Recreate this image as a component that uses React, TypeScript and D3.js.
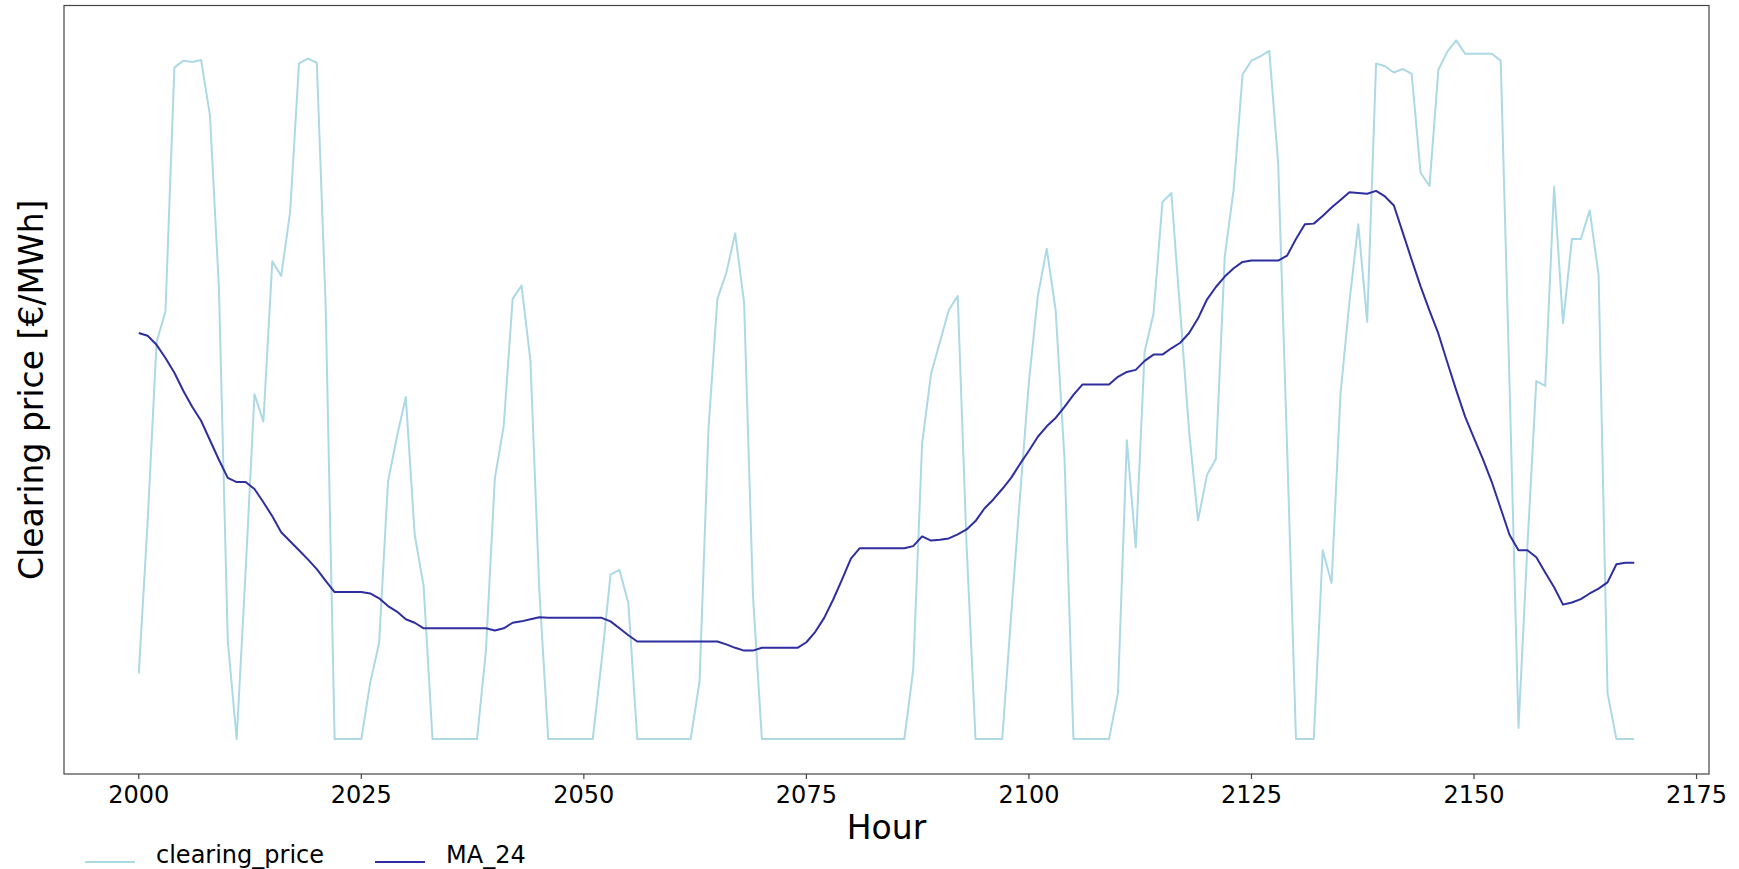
import React from "react";
import * as d3 from "d3";

const hourStart = 2000;
const xTicks = [2000, 2025, 2050, 2075, 2100, 2125, 2150, 2175];

const clearingPrice = [
  9.4, 31.3, 57.0, 61.4, 96.4, 97.4, 97.2, 97.5, 89.5, 64.9,
  14.1, 0, 24.1, 49.5, 45.6, 68.6, 66.5, 75.6, 97.0, 97.7,
  97.1, 62.0, 0, 0, 0, 0, 8.1, 13.8, 37.0, 43.4,
  49.1, 29.3, 22.0, 0, 0, 0, 0, 0, 0, 12.7,
  37.4, 45.0, 63.2, 65.1, 54.3, 21.3, 0, 0, 0, 0,
  0, 0, 11.3, 23.6, 24.3, 19.5, 0, 0, 0, 0,
  0, 0, 0, 8.3, 44.5, 63.2, 66.9, 72.6, 62.7, 20.6,
  0, 0, 0, 0, 0, 0, 0, 0, 0, 0,
  0, 0, 0, 0, 0, 0, 0, 9.9, 42.4, 52.4,
  57.0, 61.6, 63.6, 27.7, 0, 0, 0, 0, 17.7, 34.9,
  51.3, 63.6, 70.4, 61.6, 40.2, 0, 0, 0, 0, 0,
  6.6, 42.9, 27.5, 55.6, 61.1, 77.1, 78.4, 61.3, 44.1, 31.4,
  37.9, 40.2, 69.3, 78.9, 95.4, 97.4, 98.0, 98.8, 82.7, 42.0,
  0, 0, 0, 27.1, 22.4, 49.5, 62.7, 73.9, 59.9, 97.0,
  96.6, 95.7, 96.2, 95.5, 81.3, 79.4, 96.1, 98.7, 100.3, 98.4,
  98.4, 98.4, 98.4, 97.4, 50.6, 1.6, 27.7, 51.4, 50.7, 79.3,
  59.7, 71.8, 71.8, 75.9, 66.6, 6.6, 0, 0, 0,
];

const ma24 = [
  58.3, 57.9, 56.6, 54.7, 52.6, 50.0, 47.7, 45.7, 42.9, 40.1,
  37.5, 36.9, 36.9, 35.9, 34.0, 32.0, 29.7, 28.4, 27.1, 25.8,
  24.4, 22.7, 21.1, 21.1, 21.1, 21.1, 20.9, 20.2, 19.1, 18.3,
  17.2, 16.7, 15.9, 15.9, 15.9, 15.9, 15.9, 15.9, 15.9, 15.9,
  15.6, 15.9, 16.7, 16.9, 17.2, 17.5, 17.4, 17.4, 17.4, 17.4,
  17.4, 17.4, 17.4, 16.9, 15.9, 14.9, 14.0, 14.0, 14.0, 14.0,
  14.0, 14.0, 14.0, 14.0, 14.0, 14.0, 13.6, 13.1, 12.7, 12.7,
  13.1, 13.1, 13.1, 13.1, 13.1, 13.9, 15.4, 17.4, 20.0, 22.9,
  25.9, 27.4, 27.4, 27.4, 27.4, 27.4, 27.4, 27.7, 29.1, 28.5,
  28.6, 28.8, 29.4, 30.1, 31.3, 33.1, 34.4, 35.9, 37.5, 39.5,
  41.4, 43.4, 44.9, 46.1, 47.7, 49.4, 50.9, 50.9, 50.9, 50.9,
  52.0, 52.7, 53.0, 54.3, 55.2, 55.2, 56.1, 56.9, 58.3, 60.4,
  63.1, 64.9, 66.4, 67.6, 68.5, 68.7, 68.7, 68.7, 68.7, 69.4,
  71.8, 73.9, 74.0, 75.1, 76.3, 77.4, 78.5, 78.4, 78.3, 78.7,
  77.9, 76.6, 72.7, 68.8, 65.0, 61.5, 58.2, 54.1, 50.1, 46.3,
  43.2, 40.2, 36.9, 33.1, 29.3, 27.1, 27.1, 26.1, 23.9, 21.8,
  19.3, 19.6, 20.1, 20.9, 21.6, 22.5, 25.1, 25.3, 25.3,
];

const hours = clearingPrice.map((_, i) => hourStart + i);

const W = 1739;
const H = 869;
const L = 64;
const R = 1709;
const T = 5.5;
const B = 774;
const FONT = "'DejaVu Sans', Verdana, sans-serif";

export default function App() {
  const xMin = d3.min(hours) as number;
  const xMax = d3.max(hours) as number;
  const xPad = (xMax - xMin) * 0.05;
  const x = d3.scaleLinear().domain([xMin - xPad, xMax + xPad]).range([L, R]);

  const all = clearingPrice.concat(ma24);
  const yMin = d3.min(all) as number;
  const yMax = d3.max(all) as number;
  const yPad = (yMax - yMin) * 0.05;
  const y = d3.scaleLinear().domain([yMin - yPad, yMax + yPad]).range([B, T]);

  const line = d3
    .line<number>()
    .x((_, i) => x(hours[i]))
    .y((d) => y(d));

  return (
    <svg
      width={W}
      height={H}
      style={{ position: "absolute", left: 0, top: 0, background: "#fff" }}
      fontFamily={FONT}
    >
      <rect x={0} y={0} width={W} height={H} fill="#fff" />
      <path d={line(clearingPrice) || ""} fill="none" stroke="#add8e6" strokeWidth={2} strokeLinejoin="round" />
      <path d={line(ma24) || ""} fill="none" stroke="#2e2ea0" strokeWidth={2} strokeLinejoin="round" />
      <rect x={L} y={T} width={R - L} height={B - T} fill="none" stroke="#444" strokeWidth={1.2} />
      {xTicks.map((t) => (
        <g key={t}>
          <line x1={x(t)} x2={x(t)} y1={B} y2={B + 5} stroke="#444" strokeWidth={1.2} />
          <text x={x(t)} y={803} textAnchor="middle" fontSize={24} fill="#000">
            {t}
          </text>
        </g>
      ))}
      <text x={(L + R) / 2} y={839} textAnchor="middle" fontSize={33} fill="#000">
        Hour
      </text>
      <text
        transform={`translate(43, ${(T + B) / 2}) rotate(-90)`}
        textAnchor="middle"
        fontSize={33}
        fill="#000"
      >
        Clearing price [€/MWh]
      </text>
      <line x1={85} x2={135} y1={862} y2={862} stroke="#add8e6" strokeWidth={2} />
      <text x={156} y={863} fontSize={24} fill="#000">clearing_price</text>
      <line x1={375} x2={425} y1={862} y2={862} stroke="#2e2ea0" strokeWidth={2} />
      <text x={446} y={863} fontSize={24} fill="#000">MA_24</text>
    </svg>
  );
}
